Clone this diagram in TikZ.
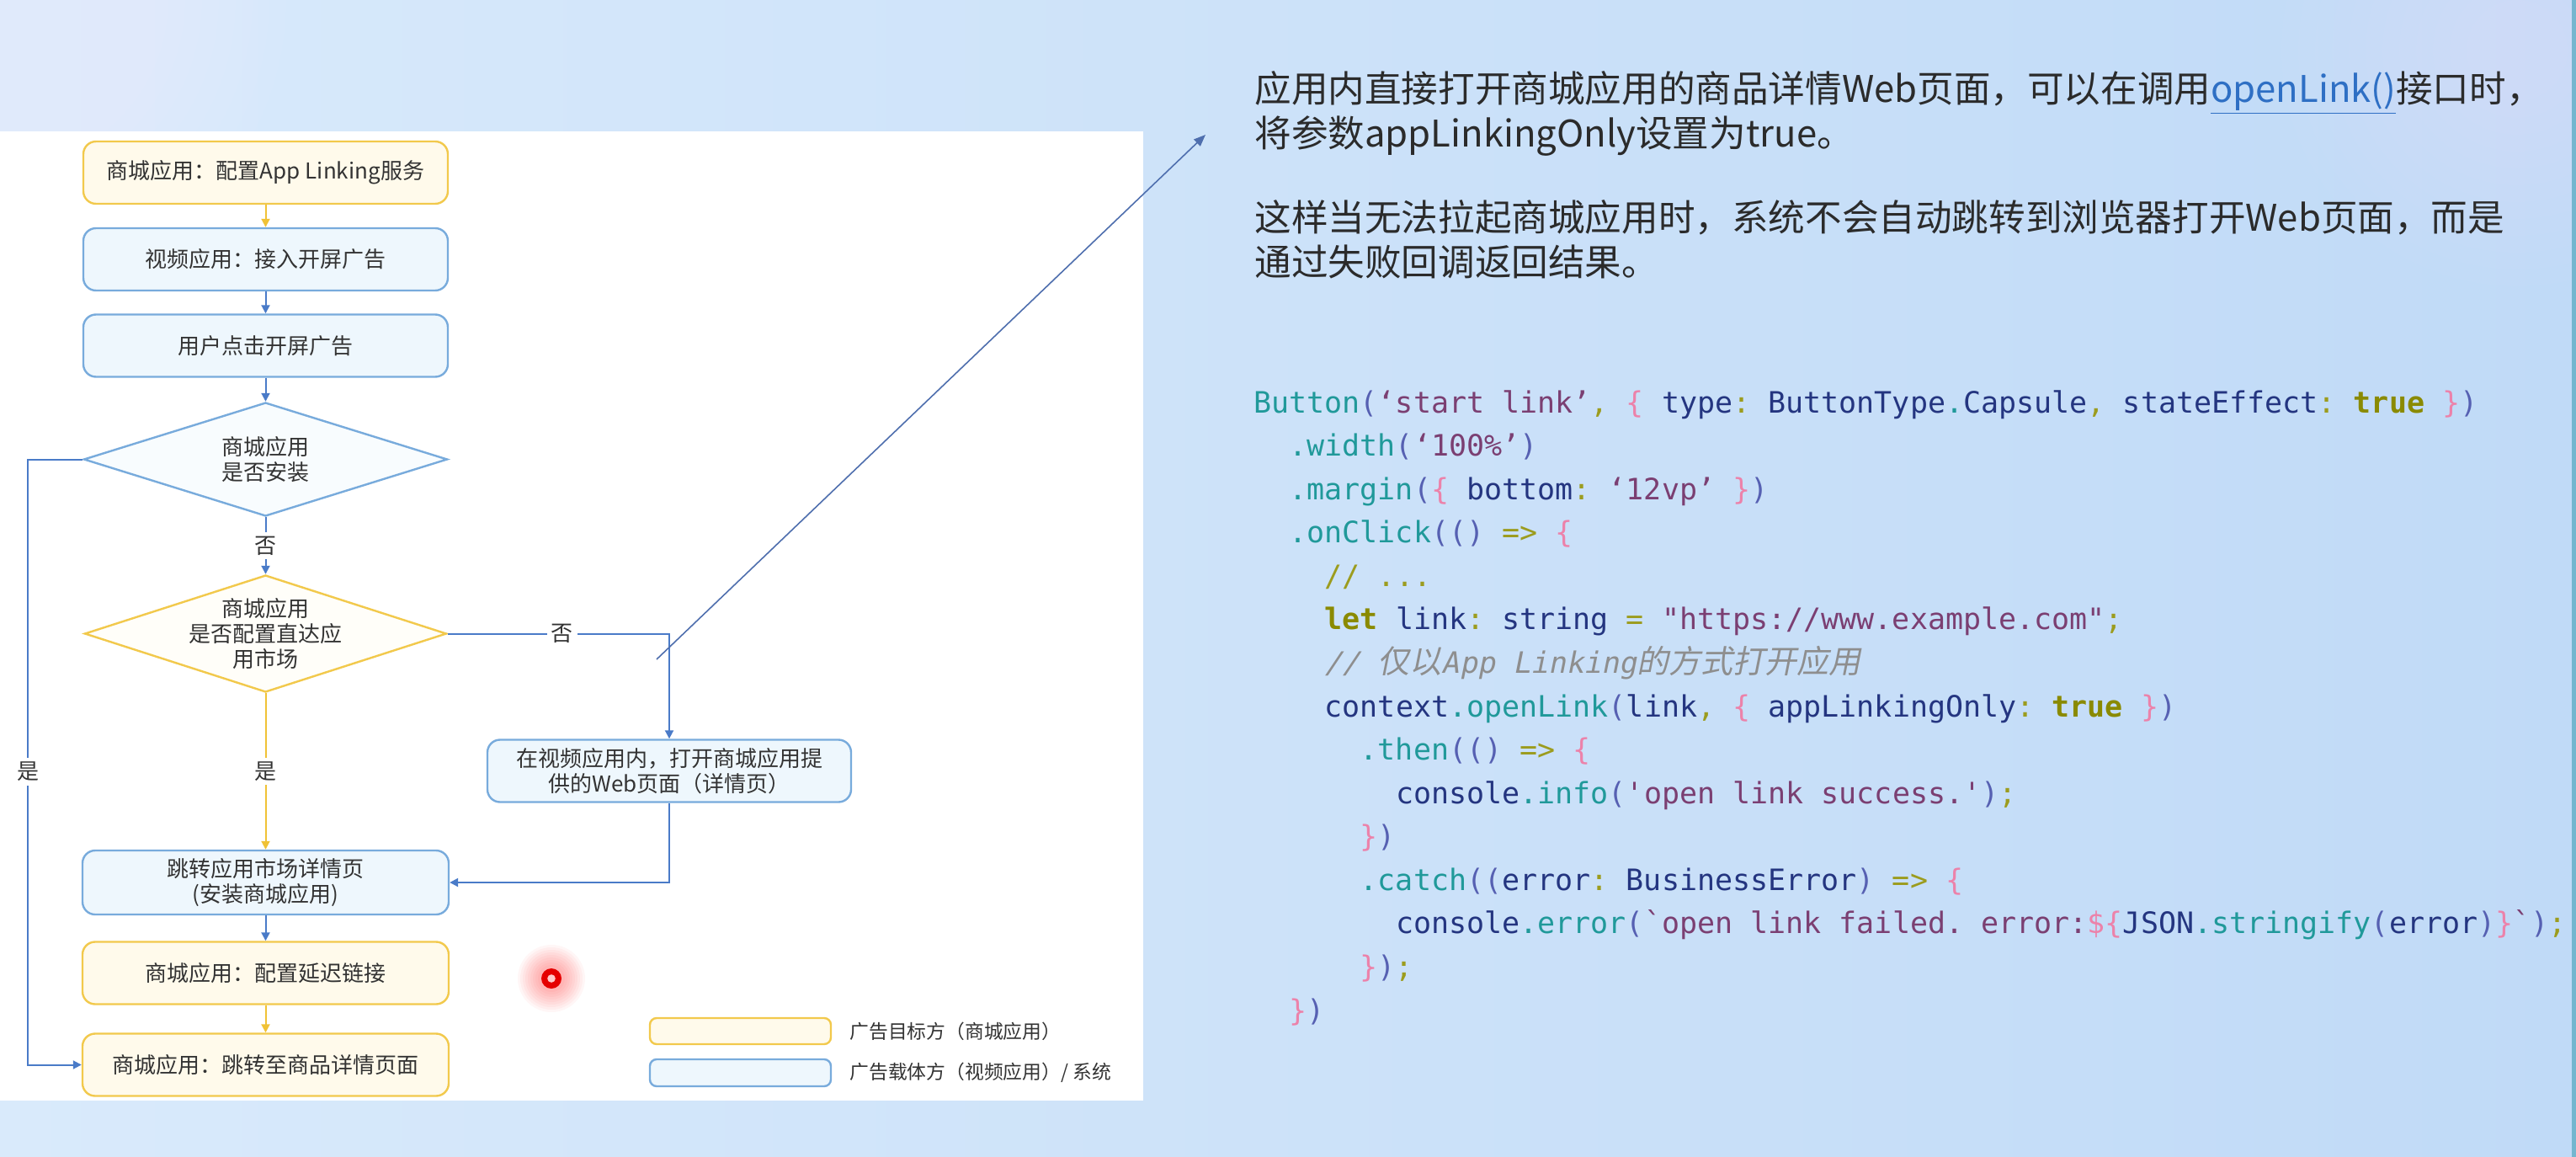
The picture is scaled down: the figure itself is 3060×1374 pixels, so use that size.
\documentclass[tikz,border=0pt]{standalone}
\usepackage{fontspec}
\setmainfont{Noto Sans CJK SC}
\newfontfamily\codefont[Ligatures=TeXOff]{DejaVu Sans Mono}
\newfontfamily\codeit[Ligatures=TeXOff,FakeSlant=0.2]{DejaVu Sans Mono}
\newfontfamily\cjkit[FakeSlant=0.2]{Noto Sans CJK SC}
\usetikzlibrary{shapes.geometric,arrows.meta,calc}
\definecolor{bgL}{HTML}{D9EAFB}
\definecolor{bgR}{HTML}{C0DAF7}
\definecolor{yb}{HTML}{F2C94C}
\definecolor{yf}{HTML}{FFFAEB}
\definecolor{bb}{HTML}{78ABDC}
\definecolor{bf}{HTML}{EEF7FD}
\definecolor{bl}{HTML}{4A7BC8}
\definecolor{yl}{HTML}{F0C236}
\definecolor{txt}{HTML}{333333}
\definecolor{rtxt}{HTML}{2B2B2B}
\definecolor{lnk}{HTML}{2E6FC4}
\definecolor{slant}{HTML}{4F6FAE}
\definecolor{cfn}{HTML}{20999A}
\definecolor{cstr}{HTML}{7B3F72}
\definecolor{cpar}{HTML}{5660B2}
\definecolor{cbr}{HTML}{EC82AA}
\definecolor{ckw}{HTML}{8A8A00}
\definecolor{cpun}{HTML}{9C9C1E}
\definecolor{cid}{HTML}{243580}
\definecolor{ccom}{HTML}{8E8E8E}
\definecolor{edgec}{HTML}{74B6CF}
\newcommand\flowfnt{\fontsize{13}{15}\selectfont}
\newcommand\legfnt{\fontsize{11.4}{13}\selectfont}
\newcommand\rtfnt{\fontsize{21.8}{26}\selectfont}
\newcommand\xF[1]{\textcolor{cfn}{#1}}
\newcommand\xS[1]{\textcolor{cstr}{#1}}
\newcommand\xP[1]{\textcolor{cpar}{#1}}
\newcommand\xB[1]{\textcolor{cbr}{#1}}
\newcommand\xK[1]{\textcolor{ckw}{\bfseries #1}}
\newcommand\xO[1]{\textcolor{cpun}{#1}}
\newcommand\xN[1]{\textcolor{cid}{#1}}
\begin{document}
\begin{tikzpicture}[x=0.5pt,y=-0.5pt,
  ybox/.style={draw=yb, fill=yf, line width=1.2pt, rounded corners=7.5pt, minimum width=216.5pt, minimum height=37pt, inner sep=0pt, align=center, font=\flowfnt, text=txt},
  bbox/.style={ybox, draw=bb, fill=bf},
  ydia/.style={diamond, draw=yb, fill=white!70!yf, line width=1.2pt, inner sep=0pt},
  bdia/.style={diamond, draw=bb, fill=white!60!bf, line width=1.2pt, inner sep=0pt},
  ftext/.style={align=center, font=\flowfnt, text=txt, inner sep=0pt},
  bline/.style={draw=bl, line width=1pt, -{Triangle[length=5pt,width=5pt]}},
  yline/.style={draw=yl, line width=1pt, -{Triangle[length=5pt,width=5pt]}},
  lab/.style={fill=white, inner sep=2.5pt, font=\flowfnt, text=txt},
  rt/.style={anchor=base west, inner sep=0pt, font=\rtfnt, text=rtxt},
  codeln/.style={anchor=base west, inner sep=0pt, font=\codefont\fontsize{17.5}{20}\selectfont\frenchspacing},
  legtxt/.style={anchor=west, inner sep=0pt, font=\legfnt, text=txt}]
\useasboundingbox (0,0) rectangle (3060,1374);
% background
\shade[left color=bgL, right color=bgR] (0,0) rectangle (3060,1374);
\foreach \r in {170,160,...,30}{
  \fill[white, opacity=0.03] (0,0) circle (\r pt);
}
\foreach \r in {140,130,...,30}{
  \fill[white, opacity=0.025] (2990,60) circle (\r pt);
}
\fill[edgec] (3055,0) rectangle (3060,1374);
% white panel
\fill[white] (0,156) rectangle (1358,1307);

% flowchart nodes
\node[ybox] (b1) at (315.5,205) {商城应用：配置App Linking服务};
\node[bbox] (b2) at (315.5,308) {视频应用：接入开屏广告};
\node[bbox] (b3) at (315.5,410.5) {用户点击开屏广告};
\node[bdia, minimum width=216pt, minimum height=67.5pt] (d1) at (315.5,545.5) {};
\node[ftext] (d1t) at (d1) {商城应用\\是否安装};
\node[ydia, minimum width=215pt, minimum height=69.5pt] (d2) at (315.5,752.5) {};
\node[ftext] (d2t) at (d2) {商城应用\\是否配置直达应\\用市场};
\node[bbox, minimum width=216pt] (b4) at (795,915.5) {在视频应用内，打开商城应用提\\供的Web页面（详情页）};
\node[bbox, minimum width=217.5pt, minimum height=38pt] (b5) at (315.5,1048) {跳转应用市场详情页\\(安装商城应用)};
\node[ybox, minimum width=217.5pt] (b6) at (315.5,1155.5) {商城应用：配置延迟链接};
\node[ybox, minimum width=217.5pt] (b7) at (315.5,1264.5) {商城应用：跳转至商品详情页面};

% connectors
\draw[yline] (b1) -- (b2);
\draw[bline] (b2) -- (b3);
\draw[bline] (b3) -- (d1);
\draw[bline] (d1.south) -- node[lab] (n1) {否} (d2.north);
\draw[bline] (d2.east) -| node[lab, pos=0.258] (n2) {否} (b4.north);
\draw[yline] (d2.south) -- node[lab] (y1) {是} (b5.north);
\draw[bline] (b4.south) |- (b5.east);
\coordinate (cl) at (33,545.5);
\draw[bline] (d1.west) -- (cl) |- node[lab, pos=0.258] (y2) {是} (b7.west);
\draw[bline] (b5) -- (b6);
\draw[yline] (b6) -- (b7);

% slanted pointer
\coordinate (s0) at (780,783);
\coordinate (s1) at (1432,160);
\draw[draw=slant, line width=0.8pt, -{Triangle[length=7pt,width=5.5pt]}] (s0) -- (s1);

% legend
\node[ybox, minimum width=107.5pt, minimum height=15.5pt, rounded corners=4pt] (ly) at (879.5,1224.5) {};
\node[bbox, minimum width=107.5pt, minimum height=16pt, rounded corners=4pt] (lb) at (879.5,1274) {};
\node[legtxt] (lyt) at (1009,1224.5) {广告目标方（商城应用）};
\node[legtxt] (lbt) at (1009,1274) {广告载体方（视频应用）/ 系统};

% red pointer dot
\foreach \r in {20,18.5,...,7}{
  \fill[red, opacity=0.035] (655,1162) circle (\r pt);
}
\fill[red!90!black] (655,1162) circle (6pt);
\fill[white!80!red] (655,1162) circle (2.4pt);

% right text
\node[rt] (r1) at (1490,122) {应用内直接打开商城应用的商品详情Web页面，可以在调用\textcolor{lnk}{\underline{openLink()}}接口时，};
\node[rt] (r2) at (1490,175) {将参数appLinkingOnly设置为true。};
\node[rt] (r3) at (1490,275) {这样当无法拉起商城应用时，系统不会自动跳转到浏览器打开Web页面，而是};
\node[rt] (r4) at (1490,328) {通过失败回调返回结果。};

% code
\node[codeln] (c1) at (1489,490) {\xF{Button}\xP{(}\xS{‘start link’}\xO{,} \xB{\{} \xN{type}\xO{:} \xN{ButtonType}\xF{.}\xN{Capsule}\xO{,} \xN{stateEffect}\xO{:} \xK{true} \xB{\}}\xP{)}};
\node[codeln] (c2) at (1531.1,541.6) {\xF{.width}\xP{(}\xS{‘100\%’}\xP{)}};
\node[codeln] (c3) at (1531.1,593.1) {\xF{.margin}\xP{(}\xB{\{} \xN{bottom}\xO{:} \xS{‘12vp’} \xB{\}}\xP{)}};
\node[codeln] (c4) at (1531.1,644.7) {\xF{.onClick}\xP{(()} \xO{=>} \xB{\{}};
\node[codeln] (c5) at (1573.3,696.3) {\xO{// ...}};
\node[codeln] (c6) at (1573.3,747.9) {\xK{let} \xN{link}\xO{:} \xN{string} \xO{=} \xS{"https://www.example.com"}\xO{;}};
\node[codeln] (c7) at (1573.3,799.4) {\textcolor{ccom}{{\codeit // }{\cjkit\fontsize{19}{20}\selectfont 仅以}{\codeit App Linking}{\cjkit\fontsize{19}{20}\selectfont 的方式打开应用}}};
\node[codeln] (c8) at (1573.3,851) {\xN{context}\xF{.openLink}\xP{(}\xN{link}\xO{,} \xB{\{} \xN{appLinkingOnly}\xO{:} \xK{true} \xB{\}}\xP{)}};
\node[codeln] (c9) at (1615.4,902.6) {\xF{.then}\xP{(()} \xO{=>} \xB{\{}};
\node[codeln] (c10) at (1657.6,954.1) {\xN{console}\xF{.info}\xP{(}\xS{'open link success.'}\xP{)}\xO{;}};
\node[codeln] (c11) at (1615.4,1005.7) {\xB{\}}\xP{)}};
\node[codeln] (c12) at (1615.4,1057.3) {\xF{.catch}\xP{((}\xN{error}\xO{:} \xN{BusinessError}\xP{)} \xO{=>} \xB{\{}};
\node[codeln] (c13) at (1657.6,1108.8) {\xN{console}\xF{.error}\xP{(}\xS{`open link failed. error:}\xB{\$\{}\xN{JSON}\xF{.stringify}\xP{(}\xN{error}\xP{)}\xB{\}}\xS{`}\xP{)}\xO{;}};
\node[codeln] (c14) at (1615.4,1160.4) {\xB{\}}\xP{)}\xO{;}};
\node[codeln] (c15) at (1531.1,1212) {\xB{\}}\xP{)}};
\end{tikzpicture}
\end{document}
